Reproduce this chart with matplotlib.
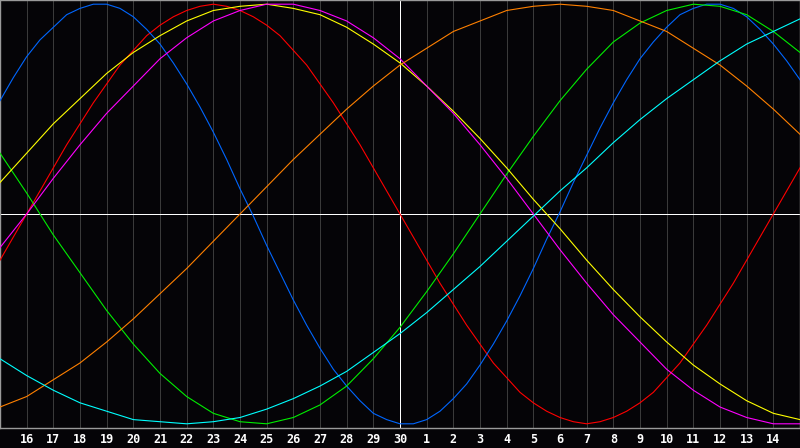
import numpy as np
from matplotlib import pyplot as plt

# day labels under the grid lines (left edge and right edge are the 15th)
day_labels = ['16', '17', '18', '19', '20', '21', '22', '23', '24', '25', '26', '27', '28', '29', '30',
              '1', '2', '3', '4', '5', '6', '7', '8', '9', '10', '11', '12', '13', '14']

# values, from day 15 to day 15 of next month
# red and blue are read every half day, the slower curves once a day
red = [-0.22, -0.11, 0.0, 0.11, 0.22, 0.33, 0.43, 0.53, 0.62, 0.71, 0.78, 0.85, 0.90, 0.94, 0.97, 0.99,
       1.0, 0.99, 0.97, 0.94, 0.90, 0.85, 0.78, 0.71, 0.62, 0.53, 0.43, 0.33, 0.22, 0.11, 0.0,
       -0.11, -0.22, -0.33, -0.43, -0.53, -0.62, -0.71, -0.78, -0.85, -0.90, -0.94, -0.97, -0.99, -1.0,
       -0.99, -0.97, -0.94, -0.90, -0.85, -0.78, -0.71, -0.62, -0.53, -0.43, -0.33, -0.22, -0.11, 0.0, 0.11, 0.22]
blue = [0.54, 0.65, 0.75, 0.83, 0.89, 0.95, 0.98, 1.0, 1.0, 0.98, 0.94, 0.88, 0.81, 0.72, 0.62, 0.51,
        0.39, 0.26, 0.12, -0.01, -0.15, -0.28, -0.41, -0.53, -0.64, -0.74, -0.82, -0.89, -0.95, -0.98, -1.0,
        -1.0, -0.98, -0.94, -0.88, -0.81, -0.72, -0.62, -0.51, -0.39, -0.26, -0.12, 0.01, 0.15, 0.28, 0.41,
        0.53, 0.64, 0.74, 0.82, 0.89, 0.95, 0.98, 1.0, 1.0, 0.98, 0.94, 0.88, 0.81, 0.73, 0.64]
green = [0.29, 0.10, -0.10, -0.28, -0.46, -0.62, -0.76, -0.87, -0.95, -0.99, -1.0, -0.97, -0.91, -0.82, -0.69, -0.54,
         -0.37, -0.19, 0.0, 0.19, 0.37, 0.54, 0.69, 0.82, 0.91, 0.97, 1.0, 0.99, 0.95, 0.87, 0.77]
yellow = [0.15, 0.29, 0.43, 0.55, 0.67, 0.77, 0.85, 0.92, 0.97, 0.99, 1.0, 0.98, 0.95, 0.89, 0.81, 0.72,
          0.61, 0.49, 0.36, 0.22, 0.07, -0.07, -0.22, -0.36, -0.49, -0.61, -0.72, -0.81, -0.89, -0.95, -0.98]
magenta = [-0.16, 0.0, 0.17, 0.33, 0.48, 0.61, 0.74, 0.84, 0.92, 0.97, 1.0, 1.0, 0.97, 0.92, 0.84, 0.74,
           0.61, 0.48, 0.33, 0.17, 0.0, -0.17, -0.33, -0.48, -0.61, -0.74, -0.84, -0.92, -0.97, -1.0, -1.0]
orange = [-0.92, -0.87, -0.79, -0.71, -0.61, -0.50, -0.38, -0.26, -0.13, 0.0, 0.13, 0.26, 0.38, 0.50, 0.61, 0.71,
          0.79, 0.87, 0.92, 0.97, 0.99, 1.0, 0.99, 0.97, 0.92, 0.87, 0.79, 0.71, 0.61, 0.50, 0.38]
cyan = [-0.69, -0.77, -0.84, -0.90, -0.94, -0.98, -0.99, -1.0, -0.99, -0.97, -0.93, -0.88, -0.82, -0.75, -0.66, -0.57,
        -0.47, -0.36, -0.25, -0.13, -0.01, 0.11, 0.22, 0.34, 0.45, 0.55, 0.64, 0.73, 0.81, 0.87, 0.93]

series = [(red, '#ff0000'), (blue, '#0066ff'), (green, '#00ee00'), (yellow, '#ffff00'),
          (magenta, '#ff00ff'), (orange, '#ff8000'), (cyan, '#00ffff')]

bg = '#050407'
n_days = len(day_labels) + 1

fig = plt.figure(figsize=(8, 4.48), dpi=100, facecolor=bg)
ax = fig.add_axes([0, 20 / 448, 1, 428 / 448])
ax.set_facecolor(bg)
ax.set_xlim(0, n_days)
ax.set_ylim(-1.02, 1.02)

# day grid
for i in range(1, n_days):
    ax.axvline(i, color='#3a3a3a', lw=0.72, antialiased=False, zorder=1)
ax.axvline(n_days / 2, color='white', lw=0.72, antialiased=False, zorder=2)
ax.axhline(0, color='white', lw=0.72, antialiased=False, zorder=2)

for values, c in series:
    x = np.linspace(0, n_days, len(values))
    ax.plot(x, values, color=c, lw=0.8, zorder=3)

ax.set_xticks(range(1, n_days))
ax.set_xticklabels(day_labels, color='white', fontsize=8.5, fontweight='bold', family='DejaVu Sans Mono')
ax.tick_params(axis='x', length=0, pad=3.5)
ax.set_yticks([])
for s in ax.spines.values():
    s.set_color('#9a9a9a')
    s.set_linewidth(1.0)

plt.savefig('out.png', format='PNG', facecolor=bg)
plt.close()
